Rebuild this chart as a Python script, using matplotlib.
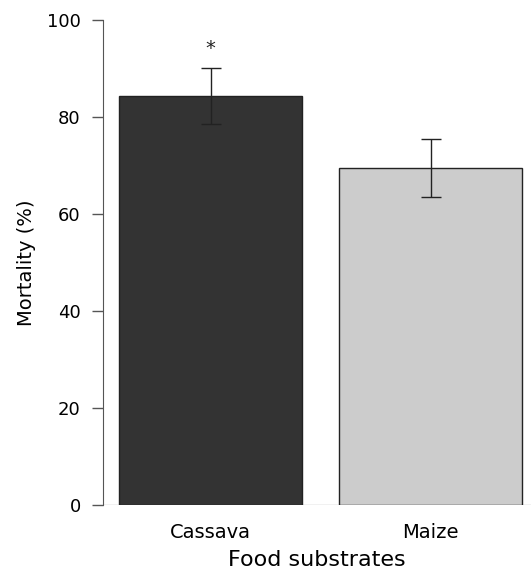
import numpy as np
import matplotlib.pyplot as plt

plt.rcParams['font.family'] = ['DejaVu Sans']

# data
substrates = ['Cassava', 'Maize']
mortality = [84.3, 69.5]
errors = [5.8, 6.0]
bar_colors = ['#333333', '#cccccc']
signif = ['*', '']

fig = plt.figure(figsize=(5.31, 5.73), dpi=100)
ax = fig.add_axes([103 / 531, 68 / 573, 428 / 531, 485 / 573])

x = np.arange(len(substrates))
ax.bar(x, mortality, width=0.832, color=bar_colors, edgecolor='#222222', linewidth=1, zorder=2)
ax.errorbar(x, mortality, yerr=errors, fmt='none', ecolor='#222222', elinewidth=1,
            capsize=7, capthick=1, zorder=3)
for xi, m, e, s in zip(x, mortality, errors, signif):
    if s:
        ax.text(xi, m + e + 4.0, s, ha='center', va='center', fontsize=14, color='#222222')

ax.axhline(0, color='#bbbbbb', linewidth=1, zorder=1)

ax.set_xlim(-0.489, 1.456)
ax.set_ylim(0, 100)
ax.set_yticks(np.arange(0, 101, 20))
ax.set_xticks(x)
ax.set_xticklabels(substrates, fontsize=14)
ax.tick_params(axis='x', length=0, pad=13)
ax.tick_params(axis='y', length=8, width=1, color='#555555', labelsize=13, pad=8)

for side in ['top', 'right', 'bottom']:
    ax.spines[side].set_visible(False)
ax.spines['left'].set_color('#555555')

ax.set_ylabel('Mortality (%)', fontsize=14, labelpad=8)
ax.set_xlabel('Food substrates', fontsize=16, labelpad=6)

fig.savefig('out.png', dpi=100)
